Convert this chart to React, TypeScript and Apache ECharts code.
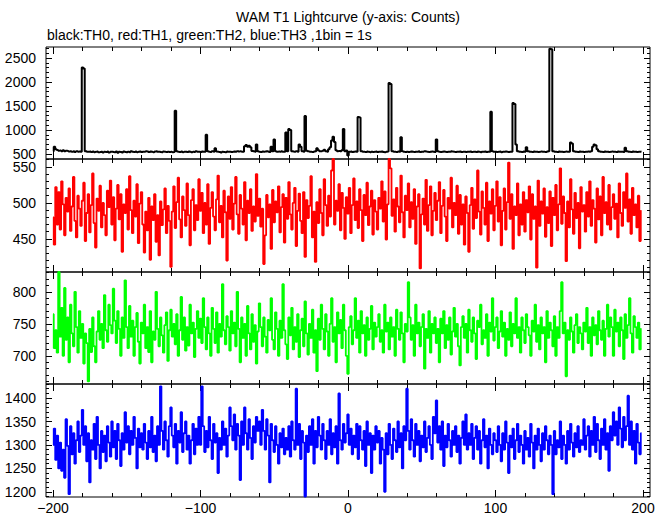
import React, { useEffect, useRef } from "react";
import * as echarts from "echarts";

// first bin time (s); 1 bin = 1 s
const xStart = -200;

// TH0 (black)
const th0 = [
  560,650,600,585,570,575,560,580,555,570,565,550,560,545,555,540,560,548,552,545,
  2300,2280,560,548,545,550,540,552,538,545,550,535,540,548,530,545,540,550,532,545,
  548,540,535,552,528,545,540,530,550,542,538,548,535,555,545,540,550,538,545,552,
  540,548,545,558,550,540,552,545,538,550,555,545,548,540,535,550,545,540,548,540,
  545,538,540,1400,560,545,540,550,538,545,548,540,552,545,535,548,540,555,545,548,
  540,552,545,548,900,560,545,540,555,548,620,550,545,540,530,545,540,538,550,545,
  548,540,545,552,545,560,550,555,548,545,660,690,650,670,640,565,555,548,700,560,
  545,540,552,548,550,560,548,540,650,555,800,560,545,550,548,560,545,545,950,560,
  1020,1000,560,550,545,560,548,700,650,560,548,1290,570,555,548,545,540,552,560,620,
  580,560,555,570,590,560,548,600,640,780,860,750,580,560,565,555,580,1020,560,575,
  470,545,550,540,548,552,545,1270,1260,560,548,545,540,550,545,538,548,540,545,550,
  540,548,545,552,540,538,545,550,1980,1960,560,548,545,540,552,548,850,560,545,540,
  548,540,545,552,545,540,548,545,555,540,548,545,560,550,545,540,548,552,545,540,
  800,560,545,540,548,552,545,540,548,545,555,550,545,540,548,545,552,540,545,548,
  540,548,545,552,540,545,548,540,550,545,538,548,545,552,540,548,545,1380,560,545,
  548,540,545,550,538,545,548,552,545,540,548,545,1560,1540,700,560,548,545,540,550,
  545,640,560,548,545,540,552,545,548,540,545,550,548,545,540,552,560,2690,2680,560,
  548,545,540,552,545,548,540,545,550,545,548,740,720,560,548,545,540,552,545,548,
  540,545,548,552,545,560,650,700,680,600,560,548,545,540,552,545,548,540,545,550,
  548,545,540,552,545,548,545,540,630,560,548,545,540,552,545,548,540,545,548,545
];

// TH1 (red)
const th1 = [
  480,442,522,470,515,463,530,498,455,507,488,520,461,495,536,475,452,510,492,468,
  503,528,447,486,512,459,497,541,472,438,506,489,524,466,500,483,455,517,494,531,
  470,508,448,492,525,477,512,432,498,486,519,463,537,490,458,503,481,526,444,499,
  515,470,431,488,462,507,421,495,476,512,446,483,427,502,469,491,520,458,496,475,
  411,488,523,465,501,535,477,452,509,490,468,527,483,441,504,519,462,497,476,533,
  489,514,458,500,470,526,443,493,515,481,462,505,538,473,496,452,517,487,420,509,
  478,522,463,499,536,484,457,511,492,470,529,448,503,486,519,461,495,474,540,482,
  506,467,492,415,455,511,480,498,436,518,473,502,487,523,459,494,512,445,507,478,
  529,484,463,500,521,440,489,513,475,458,515,425,504,479,496,537,452,488,418,501,
  472,519,486,455,533,497,468,510,481,545,561,470,503,489,526,462,514,493,450,508,
  485,521,458,497,534,476,502,465,519,490,447,511,483,528,469,495,517,456,504,488,
  463,507,492,530,474,516,449,498,561,548,482,505,460,521,495,473,538,487,452,510,
  490,527,466,501,478,519,443,495,512,409,484,506,470,532,461,497,523,455,489,514,
  476,503,529,458,496,518,481,447,507,492,535,466,500,483,524,457,511,470,498,442,
  509,486,432,497,521,464,505,479,545,488,456,516,493,470,528,447,502,485,519,462,
  496,530,474,508,441,489,520,463,501,556,478,512,436,495,483,527,455,498,470,515,
  460,504,487,523,449,512,478,495,410,531,468,502,485,520,453,494,472,516,440,507,
  483,525,462,498,548,471,509,486,419,502,466,533,491,457,514,479,500,437,522,488,
  497,460,515,481,530,468,504,492,445,520,477,509,455,536,486,501,470,525,463,494,
  512,478,499,452,527,486,468,515,493,541,474,505,457,521,483,498,466,510,447,489
];

// TH2 (green)
const th2 = [
  765,712,740,705,831,730,775,700,806,725,760,690,780,735,715,800,745,705,770,728,
  750,688,735,720,660,742,706,760,715,690,738,770,725,750,712,795,740,722,780,748,
  735,805,755,720,770,742,700,760,728,818,745,712,778,730,755,700,745,767,722,688,
  752,735,780,712,745,706,770,690,738,725,800,742,715,760,732,705,748,768,692,740,
  772,730,750,718,765,700,740,792,725,760,708,745,716,780,735,752,698,742,770,728,
  758,720,790,745,710,760,735,700,775,742,720,768,705,750,730,812,740,718,762,745,
  708,770,735,752,715,800,742,690,760,728,750,700,778,735,710,765,722,748,688,738,
  782,745,715,760,730,705,756,740,790,725,710,768,742,700,755,728,812,740,718,695,
  760,732,775,710,745,722,765,698,740,758,715,785,735,702,750,728,772,705,740,676,
  758,725,780,742,710,765,738,700,750,790,722,745,690,768,735,756,712,780,740,700,
  672,745,762,718,740,790,728,755,705,770,735,748,700,760,725,742,778,710,752,730,
  745,765,722,740,705,780,738,752,710,760,730,745,700,772,742,725,768,735,690,750,
  738,815,760,725,748,700,780,735,752,715,745,765,680,742,728,770,705,750,735,760,
  720,742,690,758,735,770,712,748,725,760,702,738,775,730,750,715,685,745,762,728,
  750,705,772,740,722,760,735,695,755,745,780,718,740,728,765,700,752,738,790,724,
  745,760,712,738,770,730,752,700,742,725,768,715,750,735,790,728,745,705,760,740,
  720,765,745,732,700,755,738,780,722,748,710,760,735,745,690,770,728,752,740,715,
  762,700,745,728,770,815,735,752,668,740,725,760,738,705,748,765,720,745,735,710,
  752,738,775,720,745,700,760,732,748,718,770,740,725,755,700,742,780,730,760,745,
  700,772,738,752,715,760,740,695,765,728,748,790,735,705,762,745,728,752,710,742
];

// TH3 (blue)
const th3 = [
  1300,1335,1268,1320,1250,1305,1245,1290,1230,1355,1298,1195,1340,1280,1325,1260,1310,1350,1285,1320,
  1375,1300,1340,1265,1325,1220,1310,1290,1345,1270,1360,1300,1250,1330,1285,1320,1265,1340,1305,1275,
  1350,1295,1330,1270,1345,1310,1255,1325,1290,1370,1305,1340,1280,1330,1300,1360,1315,1250,1335,1295,
  1325,1290,1345,1305,1270,1330,1295,1360,1285,1320,1265,1340,1300,1425,1330,1290,1350,1310,1275,1340,
  1380,1320,1295,1345,1260,1330,1305,1370,1285,1325,1350,1290,1320,1260,1310,1345,1280,1335,1300,1360,
  1300,1425,1340,1285,1330,1295,1360,1310,1270,1345,1305,1325,1240,1315,1290,1350,1300,1335,1275,1320,
  1380,1340,1310,1365,1290,1345,1320,1225,1350,1300,1380,1325,1290,1355,1315,1270,1340,1305,1360,1330,
  1350,1300,1375,1330,1290,1355,1320,1220,1345,1310,1285,1340,1300,1260,1325,1295,1335,1280,1315,1290,
  1340,1275,1350,1310,1290,1420,1300,1345,1270,1330,1305,1190,1320,1285,1340,1300,1355,1260,1330,1295,
  1360,1320,1290,1345,1310,1270,1330,1300,1355,1280,1325,1295,1340,1260,1410,1310,1290,1345,1305,1325,
  1365,1300,1335,1280,1320,1295,1345,1270,1340,1310,1290,1330,1255,1350,1300,1325,1240,1320,1290,1340,
  1305,1330,1260,1315,1290,1200,1325,1280,1345,1300,1270,1335,1310,1285,1350,1295,1325,1250,1340,1310,
  1420,1330,1290,1355,1310,1275,1345,1300,1330,1265,1320,1295,1350,1285,1315,1340,1300,1270,1360,1325,
  1395,1305,1340,1290,1350,1255,1320,1295,1345,1310,1275,1330,1300,1340,1285,1320,1260,1315,1350,1300,
  1365,1290,1325,1300,1345,1270,1315,1340,1290,1330,1260,1310,1355,1295,1320,1250,1335,1300,1280,1325,
  1310,1285,1340,1300,1265,1325,1290,1350,1305,1240,1320,1295,1335,1270,1310,1345,1285,1320,1300,1260,
  1330,1290,1315,1275,1345,1305,1250,1320,1290,1335,1300,1265,1325,1290,1340,1310,1280,1320,1300,1195,
  1330,1280,1310,1295,1350,1270,1320,1300,1260,1330,1290,1345,1305,1275,1325,1295,1340,1285,1310,1300,
  1355,1290,1320,1340,1275,1330,1300,1360,1285,1345,1310,1270,1335,1300,1355,1290,1325,1245,1340,1310,
  1370,1320,1350,1300,1380,1335,1295,1360,1310,1340,1405,1300,1350,1290,1330,1260,1345,1305,1280,1325
];

// tick labels / positions
const xLabels = [-200, -100, 0, 100, 200];
const xMinorTicks = [-200,-180,-160,-140,-120,-100,-80,-60,-40,-20,0,20,40,60,80,100,120,140,160,180,200];
const y0Labels = [500, 1000, 1500, 2000, 2500];
const y1Labels = [450, 500, 550];
const y2Labels = [700, 750, 800];
const y3Labels = [1200, 1250, 1300, 1350, 1400];

const titleText = "WAM T1 Lightcurve (y-axis: Counts)";
const subtitleText = "black:TH0, red:TH1, green:TH2, blue:TH3 ,1bin = 1s";

const FONT = '"Liberation Sans", Arial, Helvetica, sans-serif';

function range(a: number, b: number, step: number) {
  const r: number[] = [];
  for (let v = a; v <= b + 1e-9; v += step) r.push(v);
  return r;
}

const panels = [
  { data: th0, color: "#000000", width: 2, min: 396, max: 2729, major: y0Labels, minor: range(400, 2700, 100), top: 47, height: 112 },
  { data: th1, color: "#ff0000", width: 1.8, min: 404, max: 561, major: y1Labels, minor: range(410, 560, 10), top: 159, height: 113 },
  { data: th2, color: "#00ff00", width: 1.8, min: 656, max: 831, major: y2Labels, minor: range(660, 830, 10), top: 272, height: 112 },
  { data: th3, color: "#0000ff", width: 1.8, min: 1189, max: 1430, major: y3Labels, minor: range(1190, 1430, 10), top: 384, height: 113 },
];

const fmtX = (v: number) => (v < 0 ? "\u2212" + String(-v) : String(v));
const fmtY = (v: number) => String(Math.round(v));

export default function App() {
  const ref = useRef<HTMLDivElement>(null);
  useEffect(() => {
    if (!ref.current) return;
    const chart = echarts.init(ref.current, undefined, { renderer: "svg" });
    const grid: any[] = [];
    const xAxis: any[] = [];
    const yAxis: any[] = [];
    const series: any[] = [];
    panels.forEach((p, i) => {
      grid.push({ left: 46, width: 604, top: p.top, height: p.height, show: true, borderColor: "#000", borderWidth: 1, backgroundColor: "transparent" });
      const xa = (pos: string, ticks: number[], len: number, lbl: boolean) => ({
        type: "value", gridIndex: i, position: pos, min: -204.75, max: 204.75,
        axisLine: { show: false, onZero: false }, splitLine: { show: false },
        axisTick: { show: true, inside: true, length: len, customValues: ticks, lineStyle: { color: "#000", width: 1 } },
        axisLabel: { show: lbl, customValues: lbl ? xLabels : ticks, formatter: fmtX, color: "#000", fontSize: 14, fontFamily: FONT, margin: 4 },
      });
      xAxis.push(xa("bottom", xLabels, 7, i === 3));
      xAxis.push(xa("bottom", xMinorTicks, 4, false));
      xAxis.push(xa("top", xLabels, 7, false));
      xAxis.push(xa("top", xMinorTicks, 4, false));
      const ya = (pos: string, ticks: number[], len: number, lbl: boolean) => ({
        type: "value", gridIndex: i, position: pos, min: p.min, max: p.max,
        axisLine: { show: false, onZero: false }, splitLine: { show: false },
        axisTick: { show: true, inside: true, length: len, customValues: ticks, lineStyle: { color: "#000", width: 1 } },
        axisLabel: { show: lbl, customValues: ticks, formatter: fmtY, color: "#000", fontSize: 14, fontFamily: FONT, margin: 10 },
      });
      yAxis.push(ya("left", p.major, 6, true));
      yAxis.push(ya("left", p.minor, 3, false));
      yAxis.push(ya("right", p.major, 6, false));
      yAxis.push(ya("right", p.minor, 3, false));
      series.push({
        type: "line", xAxisIndex: 4 * i, yAxisIndex: 4 * i,
        data: p.data.map((v, k) => [xStart + k, v]),
        step: "middle", symbol: "none", showSymbol: false, silent: true, clip: true,
        lineStyle: { color: p.color, width: p.width },
      });
    });
    chart.setOption({
      animation: false,
      backgroundColor: "#ffffff",
      grid, xAxis, yAxis, series,
      graphic: [
        { type: "text", x: 348, y: 17, style: { text: titleText, font: `14px ${FONT}`, fill: "#000", textAlign: "center", textVerticalAlign: "middle" } },
        { type: "text", x: 47, y: 35, style: { text: subtitleText, font: `14px ${FONT}`, fill: "#000", textAlign: "left", textVerticalAlign: "middle" } },
      ],
    });
    return () => chart.dispose();
  }, []);
  return <div ref={ref} style={{ position: "fixed", left: 0, top: 0, width: 669, height: 515, background: "#fff" }} />;
}
